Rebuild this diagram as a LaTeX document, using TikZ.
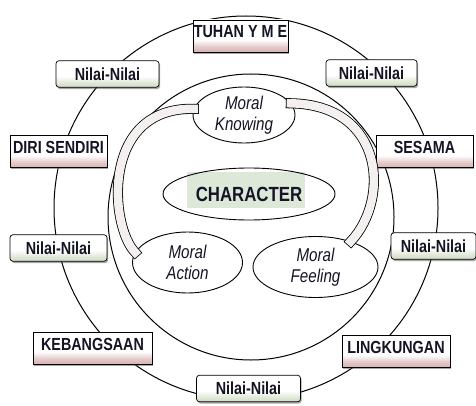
\documentclass[tikz,border=0pt]{standalone}
\usepackage{fontspec}
\newfontfamily\narrowsans{Liberation Sans}[FakeStretch=0.82]
\usepackage{tikz}
\usetikzlibrary{shapes,shadows}
\definecolor{inktext}{rgb}{0.08,0.08,0.14}
\definecolor{rosy}{rgb}{0.85,0.70,0.70}
\definecolor{sage}{rgb}{0.82,0.86,0.77}
\definecolor{charbg}{rgb}{0.87,0.91,0.85}
\definecolor{bandfill}{rgb}{0.96,0.94,0.94}
\pgfdeclareverticalshading{rosyshade}{100bp}{color(0bp)=(rosy); color(25bp)=(rosy);
    color(33bp)=(rosy!70!white); color(44bp)=(white); color(100bp)=(white)}
\pgfdeclareverticalshading{sageshade}{100bp}{color(0bp)=(sage); color(25bp)=(sage);
    color(33bp)=(sage!70!white); color(46bp)=(white); color(100bp)=(white)}
\tikzset{
    ring/.style={draw=black, line width=1pt},
    domainbox/.style={draw=black, line width=0.7pt, shading=rosyshade,
        drop shadow={shadow xshift=1.2pt, shadow yshift=-1.8pt, fill=black!70},
        font=\narrowsans\bfseries\fontsize{17.5}{20}\selectfont, text=inktext,
        inner xsep=1pt, inner ysep=3pt, text height=15pt, text depth=11pt},
    valuebox/.style={draw=black, line width=0.7pt, rounded corners=3pt, shading=sageshade,
        drop shadow={shadow xshift=1.2pt, shadow yshift=-1.8pt, fill=black!70},
        font=\narrowsans\bfseries\fontsize{17.5}{20}\selectfont, text=inktext,
        inner xsep=1pt, inner ysep=7pt, text height=12.5pt, text depth=0pt},
    moral/.style={ellipse, draw=black, line width=0.9pt, fill=white, inner sep=0pt, align=center,
        font=\narrowsans\itshape\fontsize{18.5}{21}\selectfont, text=inktext},
    core/.style={ellipse, draw=black, line width=0.9pt, inner sep=0pt,
        font=\narrowsans\bfseries\fontsize{20.5}{24}\selectfont, text=inktext},
    band/.style={draw=black, line width=0.8pt, double=bandfill, double distance=8.5pt, line cap=rect},
}

\begin{document}
\begin{tikzpicture}[x=1pt, y=1pt]
	\useasboundingbox (0,0) rectangle (476,405);
	\draw[ring] (246,197) circle (192pt);
	\draw[ring] (251,188) circle (143pt);
	% outer ring
	\node[domainbox, minimum width=95pt] (tuhan) at (240.5,369) {TUHAN Y M E};
	\node[valuebox, minimum width=103pt] (valtl) at (107.5,331) {Nilai-Nilai};
	\node[valuebox, minimum width=91pt] (valtr) at (371.5,332) {Nilai-Nilai};
	\node[domainbox, minimum width=97pt] (diri) at (58.5,253.5) {DIRI SENDIRI};
	\node[domainbox, minimum width=97pt] (sesama) at (424.5,253.5) {SESAMA};
	\node[valuebox, minimum width=97pt] (valml) at (58.5,157) {Nilai-Nilai};
	\node[valuebox, minimum width=85pt] (valmr) at (433.5,159) {Nilai-Nilai};
	\node[domainbox, minimum width=119pt] (bangsa) at (92.5,57) {KEBANGSAAN};
	\node[domainbox, minimum width=108pt] (lingkungan) at (396,54) {LINGKUNGAN};
	\node[valuebox, minimum width=104pt] (valb) at (248.5,16.5) {Nilai-Nilai};
	% inner ring
	\fill[charbg] (187,197) rectangle (305,233);
	\node[core, minimum width=172pt, minimum height=52pt] (character) at (249,211) {CHARACTER};
	\node[moral, minimum width=102pt, minimum height=56pt] (knowing) at (244,290) {Moral\\Knowing};
	\node[moral, minimum width=110pt, minimum height=61pt] (action) at (187.5,142.5) {Moral\\Action};
	\node[moral, minimum width=125pt, minimum height=61pt] (feeling) at (315.5,138) {Moral\\Feeling};
	\draw[band] (knowing.173) .. controls (100,298) and (110,178) .. (action.169);
	\draw[band] (knowing.14) .. controls (385,300) and (390,205) .. (feeling.36);
\end{tikzpicture}
\end{document}
